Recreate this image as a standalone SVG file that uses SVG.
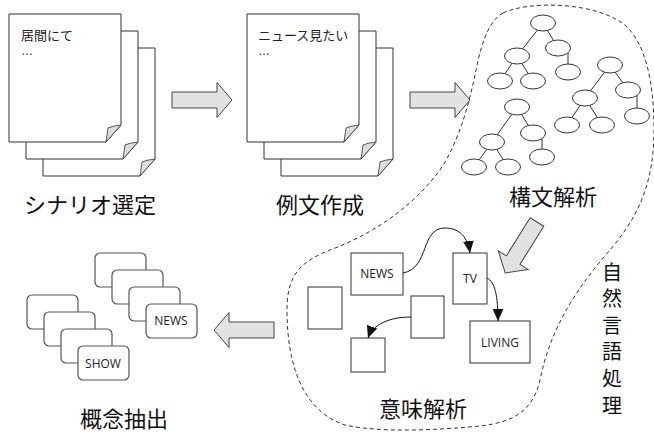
<svg xmlns="http://www.w3.org/2000/svg" width="654" height="434" viewBox="0 0 654 434">
<style>
.page{fill:#fff;stroke:#333;stroke-width:1}
.flap{fill:#ddd;stroke:#333;stroke-width:0.8}
.ptxt{font-family:"Noto Sans CJK JP","Noto Sans",sans-serif;font-size:13px;fill:#222}
.dots{font-family:"Liberation Sans",Arial,sans-serif;font-size:12px;fill:#222}
.lbl{font-family:"Noto Sans CJK JP","Noto Sans",sans-serif;font-size:22px;fill:#111;text-anchor:middle}
.vlbl{font-family:"Noto Sans CJK JP","Noto Sans",sans-serif;font-size:20px;fill:#111;writing-mode:vertical-rl;letter-spacing:6.6px}
.barrow{fill:#e2e2e2;stroke:#444;stroke-width:1}
.ell{fill:#fff;stroke:#333;stroke-width:1}
.edge{stroke:#333;stroke-width:1;fill:none}
.box{fill:#fff;stroke:#333;stroke-width:1}
.card{fill:#fff;stroke:#555;stroke-width:1.2}
.btxt{font-family:"Open Sans","Noto Sans",sans-serif;font-size:12px;fill:#222;text-anchor:middle}
.conn{fill:none;stroke:#111;stroke-width:1}
.blob{fill:none;stroke:#333;stroke-width:1;stroke-dasharray:4 3}
</style>
<defs>
<marker id="ah" markerUnits="userSpaceOnUse" markerWidth="12" markerHeight="12" viewBox="0 0 10 10" refX="10" refY="5" orient="auto">
<path d="M0,0.5 L10,5 L0,9.5 Z" fill="#111"/>
</marker>
<polygon id="arr" points="0,-8 45,-8 45,-17.5 60,0 45,17.5 45,8 0,8"/>
<g id="pg">
<path class="page" d="M0,0 h112 v111 l-15,17 h-97 z"/>
<path class="flap" d="M112,111 Q103,112 99,114 L97,128 Z"/>
</g>
</defs>

<path class="blob" d="M503,13 C530,0 600,2 627,27 C645,45 654,80 654,130 C654,180 640,215 610,250 C575,290 550,330 540,380 C533,410 515,422 480,426 C440,430 380,433 345,425 C300,410 287,360 287,310 C287,275 300,262 330,250 C370,235 410,210 440,170 C460,140 470,100 476,70 C482,40 490,20 503,13 Z"/>

<g id="scenario">
<use href="#pg" x="43" y="48"/>
<use href="#pg" x="26" y="31"/>
<use href="#pg" x="9" y="14"/>
<text class="ptxt" x="21" y="40">居間にて</text>
<text class="dots" x="21" y="55">…</text>
<text class="lbl" x="90" y="213">シナリオ選定</text>
</g>

<g id="examples">
<use href="#pg" x="281" y="48"/>
<use href="#pg" x="264" y="31"/>
<use href="#pg" x="247" y="14"/>
<text class="ptxt" x="258" y="40">ニュース見たい</text>
<text class="dots" x="258" y="55">…</text>
<text class="lbl" x="320" y="213">例文作成</text>
</g>

<g id="syntax">
<g class="edge">
<line x1="543" y1="23" x2="517" y2="56"/><line x1="543" y1="23" x2="558" y2="48"/>
<line x1="517" y1="56" x2="500" y2="81"/><line x1="517" y1="56" x2="533" y2="81"/>
<line x1="568" y1="50" x2="568" y2="72"/>
<line x1="610" y1="65" x2="585" y2="98"/><line x1="610" y1="65" x2="628" y2="90"/>
<line x1="585" y1="98" x2="567" y2="125"/><line x1="585" y1="98" x2="602" y2="125"/>
<line x1="637" y1="92" x2="637" y2="116"/>
<line x1="517" y1="107" x2="492" y2="142"/><line x1="517" y1="107" x2="533" y2="133"/>
<line x1="492" y1="142" x2="474" y2="167"/><line x1="492" y1="142" x2="508" y2="167"/>
<line x1="542" y1="135" x2="542" y2="157"/>
</g>
<g class="ell">
<ellipse cx="543" cy="23" rx="12.5" ry="8"/><ellipse cx="517" cy="56" rx="12.5" ry="8"/><ellipse cx="558" cy="48" rx="12.5" ry="8"/>
<ellipse cx="500" cy="81" rx="12.5" ry="8"/><ellipse cx="533" cy="81" rx="12.5" ry="8"/><ellipse cx="568" cy="72" rx="12.5" ry="8"/>
<ellipse cx="610" cy="65" rx="12.5" ry="8"/><ellipse cx="585" cy="98" rx="12.5" ry="8"/><ellipse cx="628" cy="90" rx="12.5" ry="8"/>
<ellipse cx="567" cy="125" rx="12.5" ry="8"/><ellipse cx="602" cy="125" rx="12.5" ry="8"/><ellipse cx="637" cy="116" rx="12.5" ry="8"/>
<ellipse cx="517" cy="107" rx="12.5" ry="8"/><ellipse cx="492" cy="142" rx="12.5" ry="8"/><ellipse cx="533" cy="133" rx="12.5" ry="8"/>
<ellipse cx="474" cy="167" rx="12.5" ry="8"/><ellipse cx="508" cy="167" rx="12.5" ry="8"/><ellipse cx="542" cy="157" rx="12.5" ry="8"/>
</g>
<text class="lbl" x="553" y="205">構文解析</text>
</g>

<g id="semantic">
<rect class="box" x="351" y="253" width="52" height="42"/>
<text class="btxt" x="377" y="278">NEWS</text>
<rect class="box" x="453" y="253" width="34" height="51"/>
<text class="btxt" x="470" y="283">TV</text>
<rect class="box" x="470" y="321" width="60" height="42"/>
<text class="btxt" x="500" y="347">LIVING</text>
<rect class="box" x="308" y="287" width="34" height="42"/>
<rect class="box" x="411" y="296" width="33" height="42"/>
<rect class="box" x="351" y="338" width="34" height="34"/>
<text class="lbl" x="423" y="417">意味解析</text>
</g>

<g id="nlp">
<text class="vlbl" x="612" y="262">自然言語処理</text>
</g>

<g id="concepts">
<rect class="card" x="95" y="253" width="51" height="34" rx="5"/>
<rect class="card" x="112" y="270" width="51" height="34" rx="5"/>
<rect class="card" x="129" y="287" width="51" height="34" rx="5"/>
<rect class="card" x="146" y="304" width="51" height="34" rx="5"/>
<text class="btxt" x="171" y="325">NEWS</text>
<rect class="card" x="27" y="295" width="51" height="34" rx="5"/>
<rect class="card" x="44" y="312" width="51" height="34" rx="5"/>
<rect class="card" x="61" y="329" width="51" height="34" rx="5"/>
<rect class="card" x="78" y="346" width="51" height="34" rx="5"/>
<text class="btxt" x="103" y="368">SHOW</text>
<text class="lbl" x="124" y="427">概念抽出</text>
</g>

<g id="connectors">
<use href="#arr" class="barrow" transform="translate(172,100)"/>
<use href="#arr" class="barrow" transform="translate(410,100)"/>
<use href="#arr" class="barrow" transform="translate(537,222) rotate(122)"/>
<use href="#arr" class="barrow" transform="translate(274,330) rotate(180)"/>
<path class="conn" d="M403,273 C430,268 420,228 445,228 C460,228 468,238 470,253" marker-end="url(#ah)"/>
<path class="conn" d="M487,278 C495,282 498,296 498,321" marker-end="url(#ah)"/>
<path class="conn" d="M411,317 C390,317 373,324 368,338" marker-end="url(#ah)"/>
</g>
</svg>
